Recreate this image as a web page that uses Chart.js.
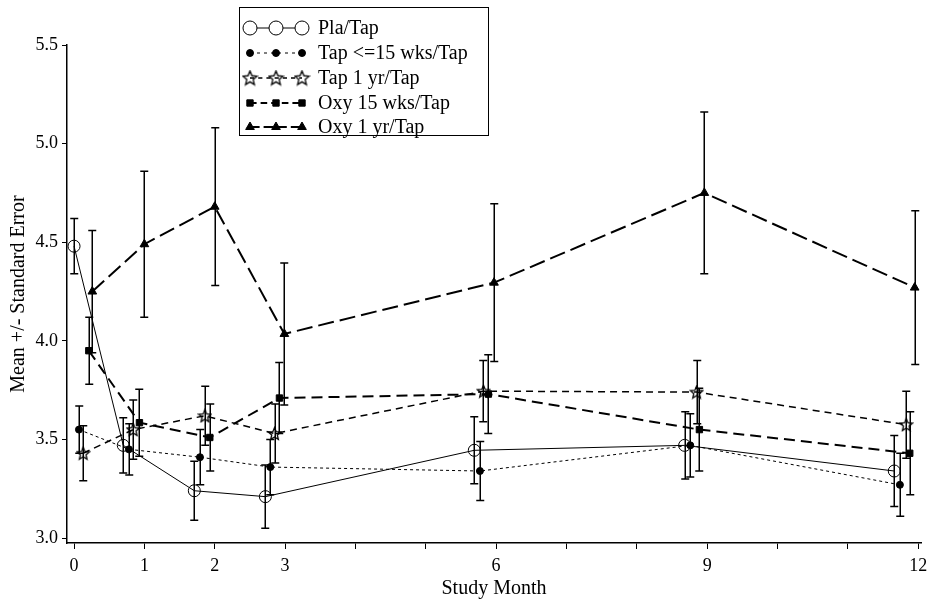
<!DOCTYPE html>
<html>
<head>
<meta charset="utf-8">
<title>Mean +/- Standard Error by Study Month</title>
<script src="https://cdn.jsdelivr.net/npm/chart.js@4/dist/chart.umd.min.js"></script>
<style>
  html, body { margin: 0; padding: 0; background: #fff; }
  #wrap { width: 929px; height: 599px; position: relative; }
</style>
</head>
<body>
<div id="wrap"><canvas id="chart"></canvas></div>
<script>
// --- data ---
// each group is plotted slightly shifted from the nominal month so the bars don't overlap
const seriesLabels = ['Pla/Tap', 'Tap <=15 wks/Tap', 'Tap 1 yr/Tap', 'Oxy 15 wks/Tap', 'Oxy 1 yr/Tap'];

const plaMonths = [0, 0.70, 1.71, 2.72, 5.69, 8.68, 11.66];
const plaMeans  = [4.48, 3.47, 3.24, 3.21, 3.445, 3.47, 3.34];
const plaSE     = [0.14, 0.14, 0.15, 0.16, 0.17, 0.17, 0.18];

const tap15Months = [0.07, 0.78, 1.79, 2.79, 5.77, 8.76, 11.74];
const tap15Means  = [3.55, 3.45, 3.41, 3.36, 3.34, 3.47, 3.27];
const tap15SE     = [0.12, 0.13, 0.14, 0.14, 0.15, 0.16, 0.16];

const tap1yMonths = [0.13, 0.84, 1.86, 2.85, 5.82, 8.85, 11.83];
const tap1yMeans  = [3.43, 3.55, 3.62, 3.53, 3.745, 3.74, 3.575];
const tap1ySE     = [0.14, 0.15, 0.15, 0.15, 0.155, 0.16, 0.17];

const oxy15Months = [0.21, 0.93, 1.93, 2.92, 5.89, 8.89, 11.88];
const oxy15Means  = [3.95, 3.585, 3.51, 3.71, 3.73, 3.55, 3.43];
const oxy15SE     = [0.17, 0.17, 0.17, 0.18, 0.20, 0.21, 0.21];

const oxy1yMonths = [0.26, 1.0, 2.0, 2.99, 5.97, 8.96, 11.95];
const oxy1yMeans  = [4.25, 4.49, 4.68, 4.035, 4.295, 4.75, 4.27];
const oxy1ySE     = [0.31, 0.37, 0.40, 0.36, 0.40, 0.41, 0.39];

const monthTicks  = [0, 1, 2, 3, 4, 5, 6, 7, 8, 9, 10, 11, 12];
const monthLabels = [0, 1, 2, 3, 6, 9, 12];
const yTicks      = [3.0, 3.5, 4.0, 4.5, 5.0, 5.5];

const FONT = "'Liberation Serif', 'Times New Roman', serif";

// open five point star, used as point style
function makeStar(size) {
    const c = document.createElement('canvas');
    c.width = size; c.height = size;
    const g = c.getContext('2d');
    const cx = size / 2, cy = size / 2 + 0.5, R = size / 2 - 1, r = R * 0.45;
    g.beginPath();
    for (let i = 0; i < 10; i++) {
        const a = -Math.PI / 2 + i * Math.PI / 5;
        const rad = i % 2 ? r : R;
        g.lineTo(cx + rad * Math.cos(a), cy + rad * Math.sin(a));
    }
    g.closePath();
    g.strokeStyle = '#000';
    g.lineWidth = 1.3;
    g.stroke();
    return c;
}
const starSmall = makeStar(15);
const starLegend = makeStar(17);

function pts(xs, ys) {
    return xs.map((x, i) => ({ x: x, y: ys[i] }));
}

// series styles (marker, line dash)
const datasets = [
    { label: seriesLabels[0], data: pts(plaMonths, plaMeans), se: plaSE,
      borderWidth: 1, borderDash: [],
      pointStyle: 'circle', pointRadius: 6, pointBackgroundColor: 'rgba(0,0,0,0)', pointBorderWidth: 1,
      legendStyle: 'circle', legendRadius: 7 },
    { label: seriesLabels[1], data: pts(tap15Months, tap15Means), se: tap15SE,
      borderWidth: 1, borderDash: [3, 3],
      pointStyle: 'circle', pointRadius: 3.5, pointBackgroundColor: '#000', pointBorderWidth: 1,
      legendStyle: 'circle', legendRadius: 3.5 },
    { label: seriesLabels[2], data: pts(tap1yMonths, tap1yMeans), se: tap1ySE,
      borderWidth: 1.5, borderDash: [7, 5],
      pointStyle: starSmall, pointRadius: 7, pointBackgroundColor: 'rgba(0,0,0,0)', pointBorderWidth: 1,
      legendStyle: starLegend, legendRadius: 8 },
    { label: seriesLabels[3], data: pts(oxy15Months, oxy15Means), se: oxy15SE,
      borderWidth: 2, borderDash: [11, 6],
      pointStyle: 'rect', pointRadius: 4.5, pointBackgroundColor: '#000', pointBorderWidth: 1,
      legendStyle: 'rect', legendRadius: 4.5 },
    { label: seriesLabels[4], data: pts(oxy1yMonths, oxy1yMeans), se: oxy1ySE,
      borderWidth: 2, borderDash: [16, 6],
      pointStyle: 'triangle', pointRadius: 5, pointBackgroundColor: '#000', pointBorderWidth: 1,
      legendStyle: 'triangle', legendRadius: 5 }
];
datasets.forEach(d => {
    d.borderColor = '#000';
    d.pointBorderColor = '#000';
    d.fill = false;
    d.tension = 0;
});

// vertical bars: mean +/- standard error
const errorBars = {
    id: 'errorBars',
    afterDatasetsDraw(chart) {
        const { ctx, scales: { x, y } } = chart;
        ctx.save();
        ctx.strokeStyle = '#000';
        ctx.lineWidth = 1.5;
        chart.data.datasets.forEach(ds => {
            ds.data.forEach((p, j) => {
                const px = Math.round(x.getPixelForValue(p.x)) + 0.25;
                const top = y.getPixelForValue(p.y + ds.se[j]);
                const bot = y.getPixelForValue(p.y - ds.se[j]);
                ctx.beginPath();
                ctx.moveTo(px, top); ctx.lineTo(px, bot);
                ctx.moveTo(px - 4, top); ctx.lineTo(px + 4, top);
                ctx.moveTo(px - 4, bot); ctx.lineTo(px + 4, bot);
                ctx.stroke();
            });
        });
        ctx.restore();
    }
};

// boxed legend with a three marker line sample, as in the original
const boxLegend = {
    id: 'boxLegend',
    afterDraw(chart) {
        const ctx = chart.ctx;
        const left = 239, top = 7, right = 488, bottom = 135;
        const rowY = [28, 53, 78, 103, 127];
        ctx.save();
        ctx.strokeStyle = '#000';
        ctx.lineWidth = 1;
        ctx.strokeRect(left + 0.5, top + 0.5, right - left, bottom - top);
        chart.data.datasets.forEach((ds, i) => {
            const yy = rowY[i];
            ctx.strokeStyle = '#000';
            ctx.lineWidth = ds.borderWidth;
            ctx.setLineDash(ds.borderDash.length ? [Math.max(3, ds.borderDash[0] * 0.6), 4] : []);
            ctx.beginPath();
            ctx.moveTo(250, yy); ctx.lineTo(302, yy);
            ctx.stroke();
            ctx.setLineDash([]);
            [250, 276, 302].forEach(mx => {
                ctx.fillStyle = ds.pointBackgroundColor === '#000' ? '#000' : '#fff';
                ctx.strokeStyle = '#000';
                ctx.lineWidth = 1;
                Chart.helpers.drawPoint(ctx, {
                    pointStyle: ds.legendStyle, radius: ds.legendRadius, rotation: 0, borderWidth: 1
                }, mx, yy);
            });
            ctx.fillStyle = '#000';
            ctx.font = '20px ' + FONT;
            ctx.textAlign = 'left';
            ctx.textBaseline = 'middle';
            ctx.fillText(ds.label, 318, yy + 1);
        });
        ctx.restore();
    }
};

new Chart(document.getElementById('chart'), {
    type: 'line',
    data: { datasets: datasets },
    options: {
        responsive: true,
        maintainAspectRatio: false,
        animation: false,
        layout: { padding: { left: 0, top: 45, right: 0, bottom: 0 } },
        plugins: {
            legend: { display: false },
            tooltip: { enabled: false }
        },
        scales: {
            x: {
                type: 'linear',
                min: -0.1,
                max: 12.04,
                afterBuildTicks: s => { s.ticks = monthTicks.map(v => ({ value: v })); },
                afterFit: s => { s.height = 56; s.paddingRight = 5; s.paddingLeft = 0; },
                ticks: {
                    autoSkip: false,
                    maxRotation: 0,
                    padding: 6,
                    color: '#000',
                    font: { family: FONT, size: 18 },
                    callback: v => monthLabels.includes(v) ? String(v) : ''
                },
                grid: { drawOnChartArea: false, color: '#000', tickLength: 6, tickWidth: 1 },
                border: { color: '#000', width: 1.5 },
                title: {
                    display: true, text: 'Study Month', color: '#000',
                    font: { family: FONT, size: 20 }, padding: { top: 0, bottom: -2 }
                }
            },
            y: {
                min: 2.975,
                max: 5.5,
                afterBuildTicks: s => { s.ticks = yTicks.map(v => ({ value: v })); },
                afterFit: s => { s.width = 67; },
                ticks: {
                    padding: 4,
                    color: '#000',
                    font: { family: FONT, size: 18 },
                    callback: v => v.toFixed(1)
                },
                grid: { drawOnChartArea: false, color: '#000', tickLength: 5, tickWidth: 1 },
                border: { color: '#000', width: 1.5 },
                title: {
                    display: true, text: 'Mean +/- Standard Error', color: '#000',
                    font: { family: FONT, size: 20 }, padding: { top: 7, bottom: 0 }
                }
            }
        }
    },
    plugins: [errorBars, boxLegend]
});
</script>
</body>
</html>
